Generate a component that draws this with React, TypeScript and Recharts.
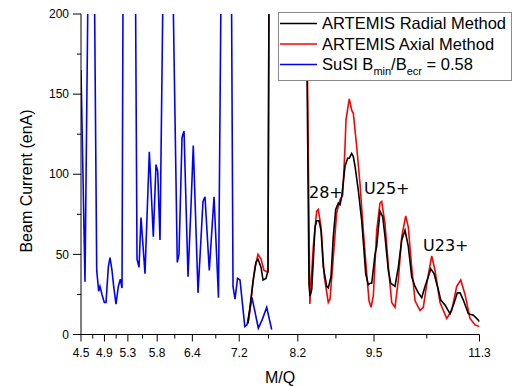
import React from 'react';
import { LineChart, Line, XAxis, YAxis, ReferenceDot } from 'recharts';

// M/Q, beam current (enA)
const susiData: [number, number][] = [
  [4.5, 165], [4.568, 33], [4.619, 215], [4.671, 400], [4.73, 215], [4.768, 40], [4.802, 27], [4.824, 30],
  [4.858, 25], [4.898, 20], [4.927, 20], [4.966, 42], [4.995, 48], [5.029, 40], [5.058, 30], [5.097, 19],
  [5.137, 30], [5.171, 34.5], [5.2, 29], [5.217, 215], [5.319, 500], [5.43, 215], [5.456, 47], [5.49, 42],
  [5.524, 73], [5.592, 38], [5.666, 114], [5.734, 61], [5.78, 106], [5.809, 102], [5.848, 59], [5.899, 215],
  [5.985, 500], [6.07, 215], [6.143, 45], [6.172, 50], [6.224, 123], [6.258, 127], [6.326, 36], [6.377, 80],
  [6.416, 118], [6.497, 26], [6.582, 83], [6.616, 86], [6.689, 40], [6.77, 86], [6.846, 23], [6.889, 215],
  [6.974, 500], [7.068, 215], [7.094, 30], [7.128, 22], [7.171, 35], [7.213, 34], [7.295, 5], [7.333, 6],
  [7.418, 23], [7.526, 4], [7.589, 9], [7.669, 17], [7.754, 3],
];

const axialData: [number, number][] = [
  [7.35, 7], [7.384, 15], [7.435, 33], [7.469, 42], [7.52, 50], [7.572, 47], [7.623, 40], [7.691, 39],
  [7.725, 400], [8.34, 250], [8.405, 19], [8.464, 55], [8.522, 77], [8.549, 78], [8.596, 67], [8.652, 36],
  [8.72, 20], [8.749, 22], [8.805, 48], [8.863, 76], [8.92, 84], [8.966, 87], [9.005, 117], [9.022, 134],
  [9.078, 147], [9.119, 140], [9.147, 138], [9.205, 117], [9.261, 94], [9.317, 65], [9.375, 38], [9.415, 21],
  [9.449, 17], [9.488, 24], [9.546, 65], [9.602, 82], [9.631, 83], [9.688, 69], [9.744, 43], [9.802, 20],
  [9.858, 17], [9.915, 34], [9.973, 61], [10.041, 74], [10.085, 67], [10.143, 42], [10.2, 21], [10.285, 15],
  [10.341, 17], [10.41, 34], [10.485, 49], [10.541, 40], [10.626, 20], [10.741, 10], [10.826, 15], [10.911, 30],
  [10.98, 34], [11.053, 25], [11.138, 10], [11.224, 6], [11.297, 5],
];

const radialData: [number, number][] = [
  [7.35, 7], [7.435, 33], [7.486, 45], [7.52, 47], [7.572, 42], [7.606, 34], [7.657, 35], [7.691, 40],
  [7.725, 400], [8.335, 250], [8.391, 31], [8.408, 24], [8.437, 28], [8.464, 46], [8.493, 67], [8.522, 71],
  [8.561, 71], [8.596, 65], [8.635, 42], [8.693, 30], [8.72, 29], [8.766, 36], [8.805, 61], [8.846, 78],
  [8.891, 82], [8.92, 81], [8.949, 86], [9.005, 105], [9.051, 110], [9.078, 110], [9.119, 113], [9.147, 111],
  [9.176, 105], [9.232, 90], [9.29, 71], [9.334, 50], [9.358, 38], [9.403, 31], [9.432, 32], [9.461, 32],
  [9.517, 50], [9.546, 55], [9.602, 77], [9.648, 73.5], [9.688, 61], [9.744, 40], [9.785, 32], [9.858, 30],
  [9.915, 42], [9.973, 59], [10.029, 65], [10.085, 55], [10.143, 36], [10.2, 30], [10.256, 26], [10.314, 23],
  [10.37, 30], [10.427, 36], [10.468, 41], [10.524, 38], [10.597, 28], [10.638, 21.5], [10.712, 18.4], [10.797, 13],
  [10.865, 19.5], [10.922, 26], [10.968, 26], [11.024, 21.5], [11.109, 13], [11.195, 12], [11.28, 9], [11.3, 8],
];

const xTicks = [4.5, 4.7, 4.9, 5.1, 5.3, 5.55, 5.8, 6.1, 6.4, 6.8, 7.2, 7.7, 8.2, 8.85, 9.5, 10.4, 11.3];
const xLabeled = [4.5, 4.9, 5.3, 5.8, 6.4, 7.2, 8.2, 9.5, 11.3];
const yTicks = [0, 25, 50, 75, 100, 125, 150, 175, 200];
const yLabeled = [0, 50, 100, 150, 200];

const annotations = [
  { x: 8.39, y: 89, text: '28+' },
  { x: 9.33, y: 91.5, text: 'U25+' },
  { x: 10.336, y: 56, text: 'U23+' },
];

const series = [
  { key: 'susi', name: 'SuSI', color: '#0000ff', data: susiData },
  { key: 'axial', name: 'ARTEMIS Axial Method', color: '#ff0000', data: axialData },
  { key: 'radial', name: 'ARTEMIS Radial Method', color: '#000000', data: radialData },
];
const legendOrder = ['radial', 'axial', 'susi'];

const SANS = '"Liberation Sans", Arial, sans-serif';

const XTick = (props: any) => {
  const { x, y, payload } = props;
  const v = payload.value;
  const major = xLabeled.some((t) => Math.abs(t - v) < 1e-6);
  return (
    <g>
      <line x1={x} y1={y} x2={x} y2={y + (major ? 7 : 4)} stroke="#000" strokeWidth={1} />
      {major && (
        <text x={x} y={y + 14} dy="0.71em" textAnchor="middle" fontSize={12} fontFamily={SANS} fill="#000">
          {String(v)}
        </text>
      )}
    </g>
  );
};

const YTick = (props: any) => {
  const { x, y, payload } = props;
  const v = payload.value;
  const major = yLabeled.includes(v);
  return (
    <g>
      <line x1={x} y1={y} x2={x - (major ? 8 : 4)} y2={y} stroke="#000" strokeWidth={1} />
      {major && (
        <text x={x - 12} y={y} dy="0.35em" textAnchor="end" fontSize={12} fontFamily={SANS} fill="#000">
          {String(v)}
        </text>
      )}
    </g>
  );
};

const LegendBox = () => {
  const rows = legendOrder.map((k) => series.find((s) => s.key === k)!);
  return (
    <svg width={234} height={69} style={{ display: 'block' }}>
      <rect x={0.5} y={0.5} width={233} height={68} fill="#fff" stroke="#8a8a8a" strokeWidth={1} />
      {rows.map((s, i) => {
        const cy = 11.5 + i * 20.5;
        return (
          <g key={s.key}>
            <line x1={2} x2={39} y1={cy} y2={cy} stroke={s.color} strokeWidth={1.5} />
            <text x={44} y={cy} dy="0.36em" fontSize={16.5} fontFamily={SANS} fill="#000">
              {s.key === 'susi' ? (
                <>
                  <tspan>SuSI B</tspan>
                  <tspan fontSize={11} dy={5}>min</tspan>
                  <tspan dy={-5}>/B</tspan>
                  <tspan fontSize={11} dy={5}>ecr</tspan>
                  <tspan dy={-5}> = 0.58</tspan>
                </>
              ) : (
                s.name
              )}
            </text>
          </g>
        );
      })}
    </svg>
  );
};

export default function App() {
  return (
    <div style={{ position: 'absolute', left: 0, top: 0, width: 512, height: 386, background: '#fff' }}>
      <LineChart width={512} height={386} margin={{ top: 14, right: 32.5, bottom: 21.5, left: 0 }}>
        <XAxis
          type="number"
          dataKey="x"
          domain={[4.5, 11.3]}
          ticks={xTicks}
          interval={0}
          allowDataOverflow
          height={30}
          tickLine={false}
          tickSize={0}
          tickMargin={0}
          tick={<XTick />}
          axisLine={{ stroke: '#000', strokeWidth: 1 }}
          label={{
            value: 'M/Q',
            content: () => (
              <text x={280} y={377} dy="0.35em" textAnchor="middle" fontSize={16} fontFamily={SANS} fill="#000">
                M/Q
              </text>
            ),
          }}
        />
        <YAxis
          type="number"
          domain={[0, 200]}
          ticks={yTicks}
          interval={0}
          allowDataOverflow
          width={81}
          tickLine={false}
          tickSize={0}
          tickMargin={0}
          tick={<YTick />}
          axisLine={{ stroke: '#000', strokeWidth: 1 }}
          label={{
            value: 'Beam Current (enA)',
            content: () => (
              <text
                x={26}
                y={181}
                dy="0.35em"
                textAnchor="middle"
                fontSize={16}
                fontFamily={SANS}
                fill="#000"
                transform="rotate(-90 26 181)"
              >
                Beam Current (enA)
              </text>
            ),
          }}
        />
        {series.map((s) => (
          <Line
            key={s.key}
            data={s.data.map(([x, y]) => ({ x, y }))}
            dataKey="y"
            name={s.name}
            type="linear"
            stroke={s.color}
            strokeWidth={1.6}
            dot={false}
            activeDot={false}
            isAnimationActive={false}
          />
        ))}
        {annotations.map((a) => (
          <ReferenceDot
            key={a.text}
            x={a.x}
            y={a.y}
            r={0}
            fill="none"
            stroke="none"
            label={{
              value: a.text,
              content: (p: any) => (
                <text
                  x={p.viewBox.x}
                  y={p.viewBox.y}
                  dy="0.36em"
                  textAnchor="start"
                  fontSize={16}
                  fontFamily='"DejaVu Sans", sans-serif'
                  fill="#000"
                >
                  {a.text}
                </text>
              ),
            }}
          />
        ))}
      </LineChart>
      <div style={{ position: 'absolute', left: 278, top: 12 }}>
        <LegendBox />
      </div>
    </div>
  );
}
